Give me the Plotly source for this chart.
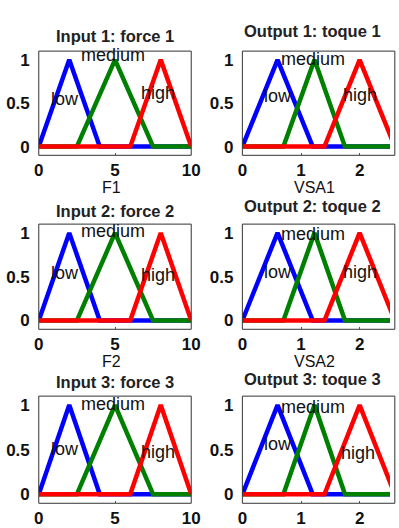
import plotly.graph_objects as go

W, H = 399, 528

# ---------------- data ----------------
mf_names = ["low", "medium", "high"]
mf_colors = ["#0000ff", "#008000", "#ff0000"]

input_range = [0, 10]
input_mfs = [[0, 2, 4], [2.5, 5, 7.5], [6, 8, 10]]
input_ticks = [0, 5, 10]

output_range = [0, 2.6]
output_mfs = [[0, 0.6, 1.2], [0.7, 1.23, 1.75], [1.4, 2.0, 2.6]]
output_ticks = [0, 1, 2]

y_ticks = [0, 0.5, 1]
y_tick_text = ["0", "0.5", "1"]

titles_left = ["Input 1: force 1", "Input 2: force 2", "Input 3: force 3"]
titles_right = ["Output 1: toque 1", "Output 2: toque 2", "Output 3: toque 3"]
xlabels_left = ["F1", "F2"]
xlabels_right = ["VSA1", "VSA2"]

# label positions (x, y) per plot: [row][mf]
label_pos_left = [
    [(1.75, 0.55), (4.9, 1.05), (7.85, 0.62)],
    [(1.75, 0.545), (4.9, 1.02), (7.8, 0.52)],
    [(1.75, 0.51), (4.9, 1.01), (7.85, 0.47)],
]
label_pos_right = [
    [(0.6, 0.58), (1.2, 1.01), (2.0, 0.59)],
    [(0.6, 0.55), (1.2, 0.99), (2.0, 0.55)],
    [(0.6, 0.56), (1.2, 0.98), (1.97, 0.46)],
]

# ---------------- layout geometry (pixels) ----------------
left_x = (35, 193)
right_x0 = 246
plot_w = 158
rows_y = [(52, 158), (228, 335), (403, 512)]
title_y_left = [37, 215, 389]
title_y_right = [32, 210, 386]
xlabel_y = [191, 368]

font_fam = "Arial, Liberation Sans, sans-serif"

def fx(px):
    return px / W

def fy(py):
    return 1 - py / H

fig = go.Figure()
annotations = []
shapes = []

def tri(rng, abc):
    a, b, c = abc
    return [rng[0], a, b, c, rng[1]], [0, 0, 1, 0, 0]

idx = 0
for r in range(3):
    for col in range(2):
        idx += 1
        xa = "x" if idx == 1 else f"x{idx}"
        ya = "y" if idx == 1 else f"y{idx}"
        if col == 0:
            rng, mfs, ticks = input_range, input_mfs, input_ticks
            x0p, x1p = left_x
            labels = label_pos_left[r]
            title, ty = titles_left[r], title_y_left[r]
            xl = xlabels_left[r] if r < len(xlabels_left) else None
            xrange = rng
            frame_x1 = 1
        else:
            rng, mfs, ticks = output_range, output_mfs, output_ticks
            x0p, x1p = right_x0, W
            labels = label_pos_right[r]
            title, ty = titles_right[r], title_y_right[r]
            xl = xlabels_right[r] if r < len(xlabels_right) else None
            vis = (W - right_x0) / plot_w
            xrange = [rng[0], rng[0] + (rng[1] - rng[0]) * vis]
            frame_x1 = plot_w / (W - right_x0)
        for k in range(3):
            xs, ys = tri(rng, mfs[k])
            fig.add_trace(go.Scatter(x=xs, y=ys, mode="lines",
                                     line=dict(color=mf_colors[k], width=4.5),
                                     xaxis=xa, yaxis=ya, showlegend=False,
                                     hoverinfo="skip"))
        y0p, y1p = rows_y[r]
        axkey = "xaxis" if idx == 1 else f"xaxis{idx}"
        aykey = "yaxis" if idx == 1 else f"yaxis{idx}"
        fig.update_layout(**{
            axkey: dict(domain=[fx(x0p), fx(x1p)], range=xrange, anchor=ya,
                        showgrid=False, zeroline=False, showline=False,
                        tickvals=ticks, ticks="inside", ticklen=2, tickwidth=1,
                        tickcolor="#555", ticklabelstandoff=3,
                        tickfont=dict(family=font_fam, size=17, color="#111", weight="bold")),
            aykey: dict(domain=[fy(y1p), fy(y0p)], range=[-0.1, 1.1], anchor=xa,
                        showgrid=False, zeroline=False, showline=False,
                        tickvals=y_ticks, ticktext=y_tick_text, ticks="",
                        ticklabelstandoff=8,
                        tickfont=dict(family=font_fam, size=17, color="#111", weight="bold")),
        })
        shapes.append(dict(type="rect", xref=f"{xa} domain", yref=f"{ya} domain",
                           x0=0, x1=frame_x1, y0=0, y1=1,
                           line=dict(color="#333", width=1), layer="above"))
        for k in range(3):
            lx, ly = labels[k]
            annotations.append(dict(x=lx, y=ly, xref=xa, yref=ya, text=mf_names[k],
                                    showarrow=False, xanchor="center", yanchor="middle",
                                    font=dict(family=font_fam, size=18, color="#111")))
        cx = (x0p + x0p + plot_w) / 2
        if col == 1:
            cx -= 6
        annotations.append(dict(x=fx(cx), y=fy(ty), xref="paper", yref="paper",
                                text=title, showarrow=False, xanchor="center",
                                yanchor="middle",
                                font=dict(family=font_fam, size=16.5, color="#222", weight="bold")))
        if xl is not None:
            annotations.append(dict(x=fx(cx - 4 if col == 0 else cx + 2), y=fy(xlabel_y[r]),
                                    xref="paper", yref="paper",
                                    text=xl, showarrow=False, xanchor="center",
                                    yanchor="middle",
                                    font=dict(family=font_fam, size=16, color="#111")))

fig.update_layout(width=W, height=H, margin=dict(l=0, r=0, t=0, b=0),
                  paper_bgcolor="white", plot_bgcolor="white",
                  annotations=annotations, shapes=shapes)
fig.write_html("out.html")
